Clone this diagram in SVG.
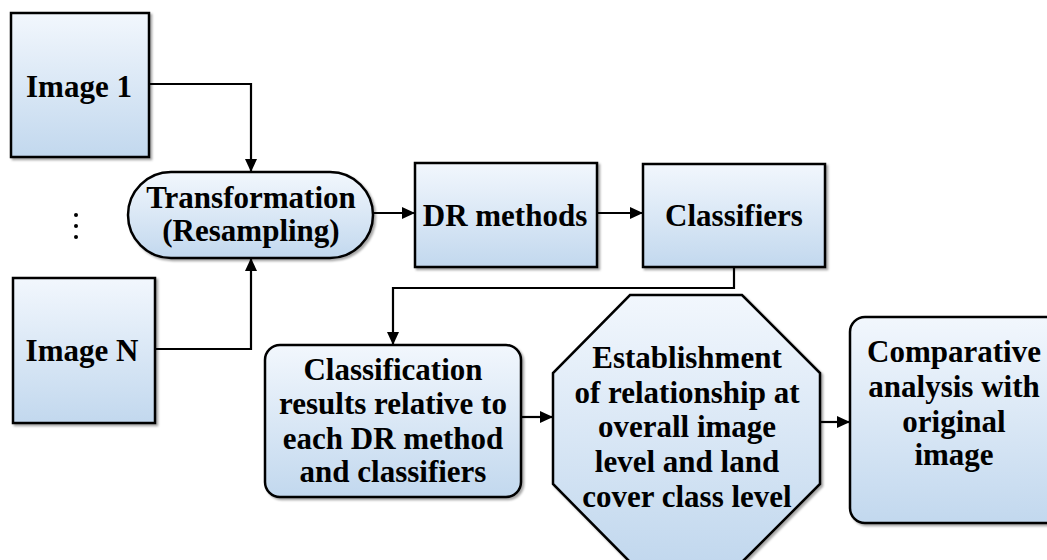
<svg xmlns="http://www.w3.org/2000/svg" width="1047" height="560" viewBox="0 0 1047 560">
  <defs>
    <linearGradient id="fill" x1="0" y1="0" x2="0" y2="1">
      <stop offset="0" stop-color="#f2f7fd"/>
      <stop offset="1" stop-color="#c2d8ee"/>
    </linearGradient>
    <filter id="shadow" x="-10%" y="-10%" width="120%" height="120%">
      <feDropShadow dx="2" dy="2" stdDeviation="1.2" flood-color="#000" flood-opacity="0.35"/>
    </filter>
    <marker id="arrow" markerUnits="userSpaceOnUse" markerWidth="14" markerHeight="12" refX="13" refY="6" orient="auto">
      <path d="M0,0 L13,6 L0,12 z" fill="#000"/>
    </marker>
  </defs>
  <style>
    .shape { fill: url(#fill); stroke: #000; stroke-width: 2.5; filter: url(#shadow); }
    .label { font-family: "Liberation Serif", "Times New Roman", serif; font-weight: bold; font-size: 31px; fill: #000; text-anchor: middle; }
    .conn { fill: none; stroke: #000; stroke-width: 2.2; marker-end: url(#arrow); }
  </style>
  <rect width="1047" height="560" fill="#fff"/>

  <g id="image1">
    <rect class="shape" x="11" y="13" width="138" height="144"/>
    <text class="label" x="79" y="97">Image 1</text>
  </g>

  <g id="ellipsis">
    <circle cx="76" cy="215" r="2" fill="#000"/>
    <circle cx="76" cy="226" r="2" fill="#000"/>
    <circle cx="76" cy="237" r="2" fill="#000"/>
  </g>

  <g id="imageN">
    <rect class="shape" x="13" y="278" width="142" height="145"/>
    <text class="label" x="82" y="361">Image N</text>
  </g>

  <g id="transformation">
    <rect class="shape" x="128" y="172" width="245" height="86" rx="43" ry="43"/>
    <text class="label" x="251" y="208">Transformation</text>
    <text class="label" x="251" y="241">(Resampling)</text>
  </g>

  <g id="dr-methods">
    <rect class="shape" x="415" y="163" width="182" height="104"/>
    <text class="label" x="505" y="226">DR methods</text>
  </g>

  <g id="classifiers">
    <rect class="shape" x="643" y="164" width="182" height="103"/>
    <text class="label" x="734" y="226">Classifiers</text>
  </g>

  <g id="classification-results">
    <rect class="shape" x="265" y="345" width="256" height="152" rx="15" ry="15"/>
    <text class="label" x="393" y="380">Classification</text>
    <text class="label" x="393" y="414">results relative to</text>
    <text class="label" x="393" y="449">each DR method</text>
    <text class="label" x="393" y="482">and classifiers</text>
  </g>

  <g id="establishment">
    <polygon class="shape" points="630,295 742,295 820,373 820,484 742,562 630,562 553,484 553,373"/>
    <text class="label" x="687" y="368">Establishment</text>
    <text class="label" x="687" y="403">of relationship at</text>
    <text class="label" x="687" y="437">overall image</text>
    <text class="label" x="687" y="472">level and land</text>
    <text class="label" x="687" y="507">cover class level</text>
  </g>

  <g id="comparative">
    <rect class="shape" x="850" y="317" width="215" height="206" rx="15" ry="15"/>
    <text class="label" x="954" y="362">Comparative</text>
    <text class="label" x="954" y="397">analysis with</text>
    <text class="label" x="954" y="432">original</text>
    <text class="label" x="954" y="465">image</text>
  </g>

  <g id="connectors">
    <path class="conn" d="M149,84 H251 V172"/>
    <path class="conn" d="M155,349 H251 V258"/>
    <path class="conn" d="M373,213 H415"/>
    <path class="conn" d="M597,213 H643"/>
    <path class="conn" d="M734,267 V288 H393 V345"/>
    <path class="conn" d="M521,417 H553"/>
    <path class="conn" d="M820,422 H850"/>
  </g>
</svg>
